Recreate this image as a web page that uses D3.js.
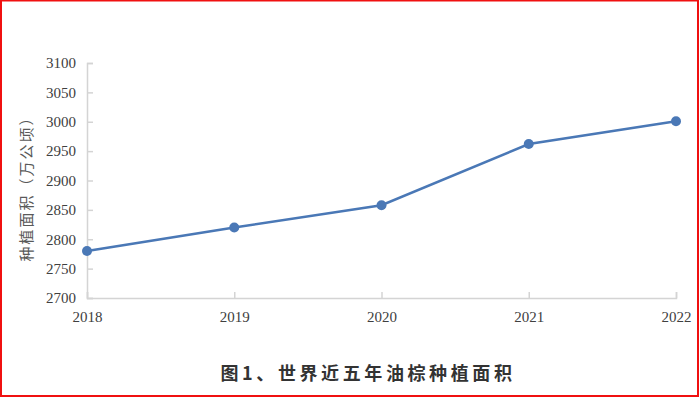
<!DOCTYPE html>
<html>
<head>
<meta charset="utf-8">
<script src="https://cdn.jsdelivr.net/npm/d3@7"></script>
<style>
  body { margin: 0; background: #fff; }
  svg { display: block; }
</style>
</head>
<body>
<div id="chart"></div>
<script>
// data
const years = ["2018", "2019", "2020", "2021", "2022"];
const areas = [2780, 2820, 2858, 2962, 3001];
const yTicks = [2700, 2750, 2800, 2850, 2900, 2950, 3000, 3050, 3100];
const yLabel = "种植面积（万公顷）";
const title = "图1、世界近五年油棕种植面积";

const totalWidth = 700, totalHeight = 398;
const margin = {top: 63, right: 24, bottom: 100, left: 87},
    width = totalWidth - margin.left - margin.right,
    height = totalHeight - margin.top - margin.bottom;

const root = d3.select("#chart").append("svg")
    .attr("width", totalWidth)
    .attr("height", totalHeight);

// red frame
root.append("rect")
    .attr("x", 1).attr("y", 0.5)
    .attr("width", 697).attr("height", 395.5)
    .attr("fill", "none")
    .attr("stroke", "#f01010")
    .attr("stroke-width", 2);

const svg = root.append("g")
    .attr("transform", "translate(" + margin.left + "," + margin.top + ")");

const x = d3.scalePoint()
    .domain(years)
    .range([0, width]);

const y = d3.scaleLinear()
    .domain([2700, 3100])
    .range([height, 0]);

// Y axis (ticks pointing inward)
const yAxis = svg.append("g")
    .call(d3.axisLeft(y).tickValues(yTicks).tickFormat(d3.format("d")).tickSize(-6));
yAxis.select(".domain").attr("stroke", "#d4d4d4").attr("stroke-width", 1.5);
yAxis.selectAll(".tick line").attr("stroke", "#d4d4d4").attr("stroke-width", 1.5);
yAxis.selectAll("text")
    .style("font-family", "'Liberation Serif', serif")
    .style("font-size", "15px")
    .attr("fill", "#404040")
    .attr("x", -11);

// X axis (ticks pointing up)
const xAxis = svg.append("g")
    .attr("transform", "translate(0," + height + ")")
    .call(d3.axisBottom(x).tickSize(-6));
xAxis.select(".domain").attr("stroke", "#d4d4d4").attr("stroke-width", 1.5);
xAxis.selectAll(".tick line").attr("stroke", "#d4d4d4").attr("stroke-width", 1.5);
xAxis.selectAll("text")
    .style("font-family", "'Liberation Serif', serif")
    .style("font-size", "15px")
    .attr("fill", "#404040")
    .attr("y", 13);

const points = years.map((d, i) => ({year: d, value: areas[i]}));

const line = d3.line()
    .x(d => x(d.year))
    .y(d => y(d.value));

svg.append("path")
    .datum(points)
    .attr("fill", "none")
    .attr("stroke", "#4a78b6")
    .attr("stroke-width", 2.5)
    .attr("d", line);

svg.selectAll("circle")
    .data(points)
    .enter()
    .append("circle")
    .attr("cx", d => x(d.year))
    .attr("cy", d => y(d.value))
    .attr("r", 5)
    .attr("fill", "#4a78b6");

// Y axis title
root.append("text")
    .attr("transform", "translate(32,185) rotate(-90)")
    .attr("text-anchor", "middle")
    .attr("font-family", "'Noto Sans CJK SC', sans-serif")
    .attr("font-size", 15)
    .attr("letter-spacing", 2)
    .attr("fill", "#595959")
    .text(yLabel);

// caption
root.append("text")
    .attr("x", 368)
    .attr("y", 380)
    .attr("text-anchor", "middle")
    .attr("font-family", "'Noto Sans CJK SC', sans-serif")
    .attr("font-weight", "bold")
    .attr("font-size", 18)
    .attr("letter-spacing", 3.6)
    .attr("fill", "#333")
    .text(title);
</script>
</body>
</html>
